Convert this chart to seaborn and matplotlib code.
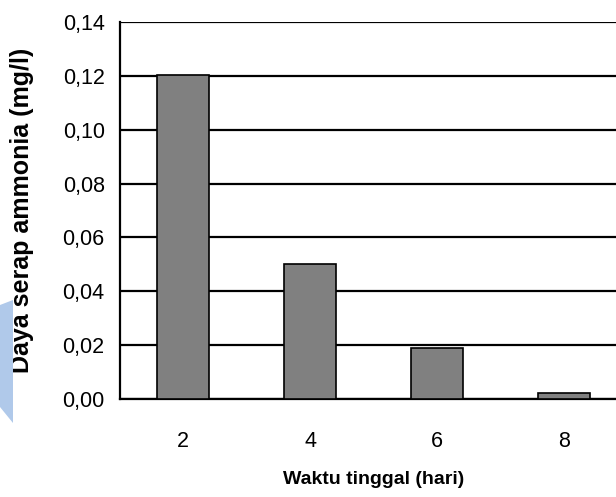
import matplotlib
matplotlib.use('Agg')
import matplotlib.pyplot as plt
import matplotlib.ticker as mticker
from matplotlib.patches import Polygon
import seaborn as sns
import pandas as pd
import numpy as np

sns.set_style('white')
plt.rcParams['font.family'] = ['Liberation Sans', 'DejaVu Sans']
plt.rcParams['font.size'] = 15.5
plt.rcParams['text.color'] = 'black'
plt.rcParams['axes.labelcolor'] = 'black'
plt.rcParams['xtick.color'] = 'black'
plt.rcParams['ytick.color'] = 'black'

waktu = ['2', '4', '6', '8']
daya_serap = [0.1205, 0.0501, 0.0189, 0.0022]
y_ticks = [0.00, 0.02, 0.04, 0.06, 0.08, 0.10, 0.12, 0.14]

df = pd.DataFrame({'waktu': waktu, 'daya': daya_serap})

fig = plt.figure(figsize=(6.16, 4.97), dpi=100)
ax = fig.add_axes([120/616, 1 - 399/497, 507/616, 377/497])

# light blue watermark on the left edge
fig.patches.append(Polygon([[0, 1 - 305/497], [13/616, 1 - 300/497],
                            [13/616, 1 - 423/497], [0, 1 - 407/497]],
                           closed=True, transform=fig.transFigure,
                           facecolor='#b0c9ea', edgecolor='none', zorder=0))

sns.barplot(data=df, x='waktu', y='daya', ax=ax, color='#808080',
            saturation=1, edgecolor='black', linewidth=1.2, width=0.41, zorder=3)

ax.set_ylim(0, 0.14)
ax.set_xlim(-0.5, 3.5)
ax.set_yticks(y_ticks)
ax.yaxis.set_major_formatter(mticker.FuncFormatter(lambda v, p: f'{v:.2f}'.replace('.', ',')))
ax.yaxis.grid(True, color='black', linewidth=1.6, zorder=0)
ax.set_axisbelow(True)

ax.set_xticks(np.arange(len(waktu)))
ax.set_xticklabels(waktu)
ax.set_xticks(np.arange(-0.5, len(waktu) + 0.5), minor=True)
ax.tick_params(axis='x', which='major', length=0, pad=23, labelsize=15.5)
ax.tick_params(axis='x', which='minor', length=8, width=1.2, direction='out', color='black')
ax.tick_params(axis='y', length=7, width=1.5, direction='out', color='black', labelsize=15.5, pad=4)

for s in ['top', 'right']:
    ax.spines[s].set_visible(False)
for s in ['left', 'bottom']:
    ax.spines[s].set_color('black')
    ax.spines[s].set_linewidth(1.6)

ax.set_xlabel('Waktu tinggal (hari)', fontsize=14, fontweight='bold', labelpad=14)
ax.set_ylabel('Daya serap ammonia (mg/l)', fontsize=18, fontweight='bold')
ax.yaxis.set_label_coords(-0.17, 0.5)

fig.savefig('out.png', dpi=100)
